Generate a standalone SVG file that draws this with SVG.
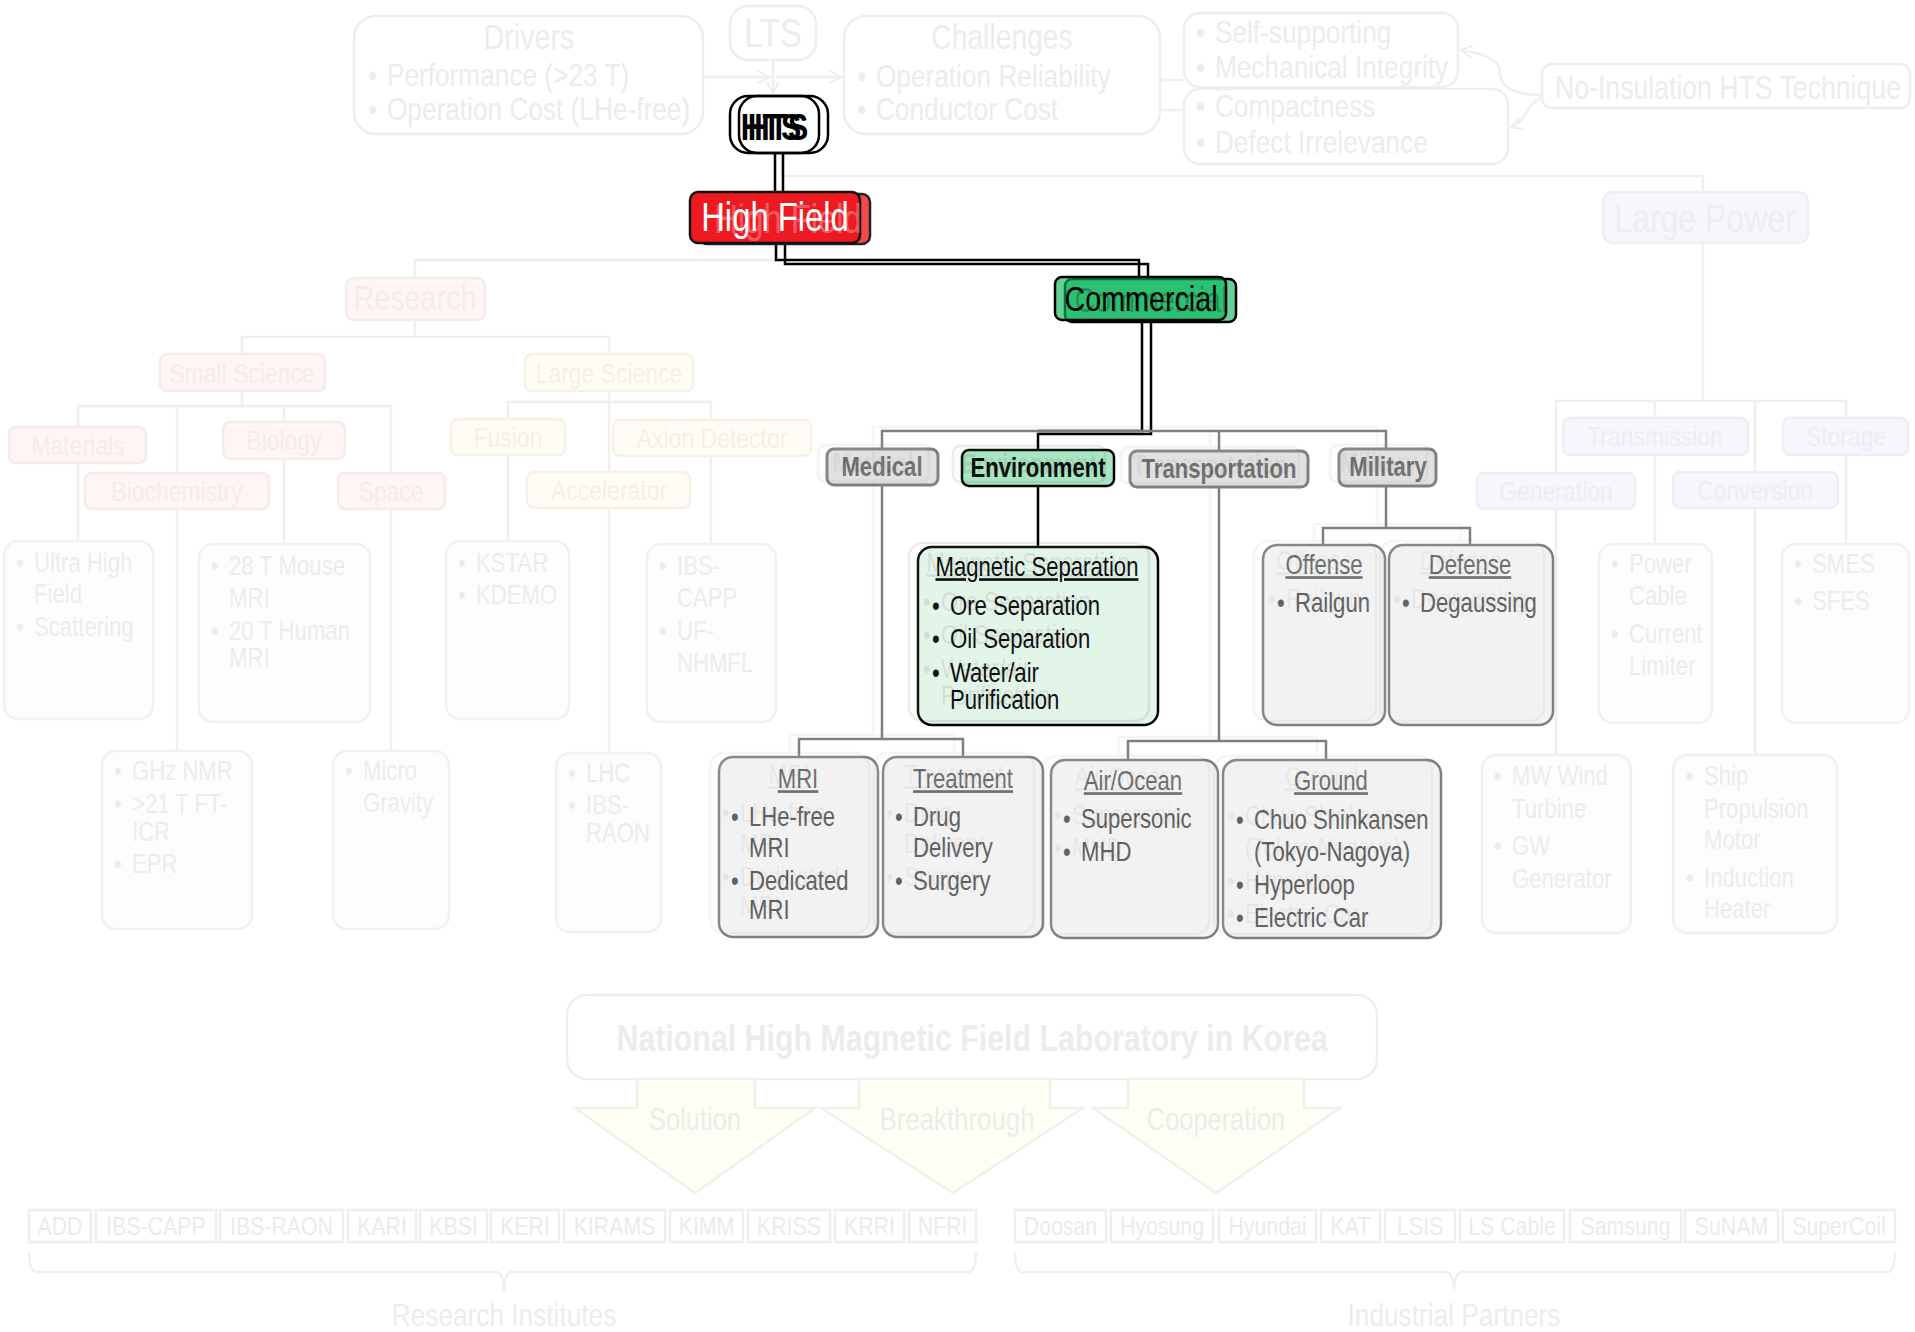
<svg xmlns="http://www.w3.org/2000/svg" xmlns:xlink="http://www.w3.org/1999/xlink" width="1915" height="1332" viewBox="0 0 1915 1332">
<defs>
<style>
text{font-family:'Liberation Sans Narrow','Arial Narrow','Liberation Sans',Arial,sans-serif;transform:scaleX(0.82);transform-box:fill-box;transform-origin:0% 50%}
.c{text-anchor:middle;transform-origin:50% 50%}
.fl{fill:none;stroke:#efefef;stroke-width:2.5}
.fb{fill:#fff;stroke:#eeeeee;stroke-width:2.5}
.ft{fill:#ececec}
.rs{fill:#fdf6f4;stroke:#f5ebe8;stroke-width:2.5}
.rst{fill:#f7ebe8}
.ls{fill:#fffcf5;stroke:#f6f1e6;stroke-width:2.5}
.lst{fill:#f5f0e4}
.lp{fill:#f6f6fd;stroke:#eeeef7;stroke-width:2.5}
.lpt{fill:#ededf5}
.cf{fill:#fdfdfd;stroke:#f1f1f1;stroke-width:2.5}
.s27{font-size:27px}
.s28{font-size:28px}
.s32{font-size:32px}
.gb{fill:#e1e1e1;stroke:#808080;stroke-width:3}
.gt{fill:#6a6a6a;font-weight:bold;font-size:27px;text-anchor:middle;transform-origin:50% 50%}
.cb{fill:#f2f2f2;stroke:#7f7f7f;stroke-width:2.5}
.ct{fill:#575757;font-size:27px}
.tt{fill:#666;font-size:27px;text-anchor:middle;text-decoration:underline;transform-origin:50% 50%}
.gl{fill:none;stroke:#7f7f7f;stroke-width:2.5}
.bl{fill:none;stroke:#000;stroke-width:2.5}
.ib{fill:none;stroke:#eeeeee;stroke-width:2.5}
.it{fill:#ebebeb;font-size:26px;text-anchor:middle;transform-origin:50% 50%}
.ya{fill:#fffef5;stroke:#f1f1ec;stroke-width:2.5}
</style>
<marker id="fa" markerWidth="14" markerHeight="14" refX="12" refY="7" orient="auto" markerUnits="userSpaceOnUse">
<path d="M1,1 L12,7 L1,13" fill="none" stroke="#eeeeee" stroke-width="2"/>
</marker>
</defs>
<rect width="1915" height="1332" fill="#fff"/>

<!-- connectors -->
<g id="connectors">
  <path class="fl" d="M703,77 H769" marker-end="url(#fa)"/>
  <path class="fl" d="M776,77 H841" marker-end="url(#fa)"/>
  <path class="fl" d="M773,60 V93" marker-end="url(#fa)"/>
  <path class="fl" d="M1184,80 H1112" marker-end="url(#fa)"/>
  <path class="fl" d="M1184,110 H1082" marker-end="url(#fa)"/>
  <path class="fl" d="M1542,95 C1505,95 1500,82 1500,72 C1500,60 1482,53 1461,50" marker-end="url(#fa)"/>
  <path class="fl" d="M1542,97 C1526,104 1526,122 1511,127" marker-end="url(#fa)"/>
  <path class="fl" d="M782,154 V176 H1703 V192"/>
  <path class="fl" d="M415,278 V260 H1139"/>
  <path class="fl" d="M415,320 V337 M242,354 V337 H609 V354"/>
  <path class="fl" d="M242,391 V406 M78,427 V406 H391 V473 M177,406 V473 M284,406 V422"/>
  <path class="fl" d="M609,391 V402 M508,419 V402 H711 V420 M609,402 V472"/>
  <path class="fl" d="M78,463 V541 M284,459 V544 M177,509 V751 M391,509 V751 M508,455 V541 M711,456 V544 M609,508 V753"/>
  <path class="fl" d="M1703,243 V401 M1556,473 V401 H1846 V418 M1655,401 V418 M1755,401 V472"/>
  <path class="fl" d="M1655,455 V544 M1846,455 V544 M1556,509 V755 M1755,508 V755"/>
  <path class="bl" d="M775,153 V193 M783,153 V193"/>
  <path class="bl" d="M776,243 V260 H1139 V278"/>
  <path class="bl" d="M785,243 V264 H1148 V279"/>
  <path class="bl" d="M1142,321 V431 H1038"/>
  <path class="bl" d="M1151,322 V434 H1038 V450"/>
  <path class="bl" d="M1038,486 V547"/>
</g>

<!-- ===== faint top row ===== -->
<g id="drivers">
  <rect class="fb" x="354" y="16" width="349" height="118" rx="22"/>
  <text class="ft c" x="529" y="49" font-size="35">Drivers</text>
  <text class="ft s32" x="368" y="86">• <tspan dx="3">Performance (&gt;23 T)</tspan></text>
  <text class="ft s32" x="368" y="120">• <tspan dx="3">Operation Cost (LHe-free)</tspan></text>
</g>
<g id="lts">
  <rect class="fb" x="730" y="6" width="86" height="54" rx="18"/>
  <text class="ft c" x="773" y="47" font-size="40">LTS</text>
</g>
<g id="challenges">
  <rect class="fb" x="844" y="16" width="316" height="118" rx="22"/>
  <text class="ft c" x="1002" y="49" font-size="34.5">Challenges</text>
  <text class="ft s32" x="857" y="87">• <tspan dx="3">Operation Reliability</tspan></text>
  <text class="ft s32" x="857" y="120">• <tspan dx="3">Conductor Cost</tspan></text>
</g>
<g id="self-supporting">
  <rect class="fb" x="1184" y="13" width="274" height="74" rx="16"/>
  <text class="ft s32" x="1196" y="43">• <tspan dx="3">Self-supporting</tspan></text>
  <text class="ft s32" x="1196" y="78">• <tspan dx="3">Mechanical Integrity</tspan></text>
</g>
<g id="compactness">
  <rect class="fb" x="1184" y="89" width="324" height="75" rx="16"/>
  <text class="ft s32" x="1196" y="117">• <tspan dx="3">Compactness</tspan></text>
  <text class="ft s32" x="1196" y="153">• <tspan dx="3">Defect Irrelevance</tspan></text>
</g>
<g id="no-insulation">
  <rect class="fb" x="1542" y="64" width="368" height="44" rx="10"/>
  <text class="ft" x="1555" y="99" font-size="32.5">No-Insulation HTS Technique</text>
</g>

<!-- ===== highlighted top ===== -->
<g id="hts">
  <rect x="739" y="96" width="89" height="57" rx="18" fill="#fff" stroke="#000" stroke-width="2.5"/>
  <rect x="730" y="96" width="89" height="57" rx="18" fill="none" stroke="#000" stroke-width="2.5"/>
  <text x="771" y="140" font-size="37" font-weight="bold" class="c" fill="#000">HTS</text>
  <text x="778" y="140" font-size="37" font-weight="bold" class="c" fill="#000">HTS</text>
</g>
<g id="high-field">
  <rect x="699" y="194" width="171" height="50" rx="8" fill="#f24a4a" stroke="#222" stroke-width="2.5"/>
  <rect x="690" y="192" width="170" height="51" rx="8" fill="#ee1a22" stroke="#111" stroke-width="2.5"/>
  <text x="775" y="231" font-size="40" class="c" fill="#fff">High Field</text>
  <text x="788" y="233" font-size="40" class="c" fill="#fff" fill-opacity="0.3">High Field</text>
</g>
<g id="commercial">
  <rect x="1065" y="279" width="171" height="43" rx="7" fill="rgb(11,182,92)" fill-opacity="0.63" stroke="#000" stroke-width="2.5"/>
  <rect x="1055" y="277" width="171" height="43" rx="7" fill="rgb(11,182,92)" fill-opacity="0.63" stroke="#000" stroke-width="2.5"/>
  <text x="1141" y="311" font-size="35" class="c" fill="#000">Commercial</text>
  <text x="1151" y="312" font-size="35" class="c" fill="#000" fill-opacity="0.25">Commercial</text>
</g>

<!-- ===== faint research side ===== -->
<g id="research"><rect class="rs" x="346" y="278" width="139" height="42" rx="8"/><text class="rst c" x="415" y="310" font-size="35">Research</text></g>
<g id="small-science"><rect class="rs" x="160" y="354" width="165" height="37" rx="7"/><text class="rst c s28" x="242" y="383">Small Science</text></g>
<g id="large-science"><rect class="ls" x="525" y="354" width="168" height="37" rx="7"/><text class="lst c s28" x="609" y="383">Large Science</text></g>
<g id="materials"><rect class="rs" x="9" y="427" width="137" height="36" rx="7"/><text class="rst c s28" x="78" y="455">Materials</text></g>
<g id="biology"><rect class="rs" x="223" y="422" width="122" height="37" rx="7"/><text class="rst c s28" x="284" y="450">Biology</text></g>
<g id="biochemistry"><rect class="rs" x="85" y="473" width="184" height="36" rx="7"/><text class="rst c s28" x="177" y="501">Biochemistry</text></g>
<g id="space"><rect class="rs" x="338" y="473" width="107" height="36" rx="7"/><text class="rst c s28" x="391" y="501">Space</text></g>
<g id="fusion"><rect class="ls" x="451" y="419" width="114" height="36" rx="7"/><text class="lst c s28" x="508" y="447">Fusion</text></g>
<g id="axion"><rect class="ls" x="613" y="420" width="198" height="36" rx="7"/><text class="lst c s28" x="712" y="448">Axion Detector</text></g>
<g id="accelerator"><rect class="ls" x="527" y="472" width="163" height="36" rx="7"/><text class="lst c s28" x="609" y="500">Accelerator</text></g>

<g id="ultra-high-field"><rect class="cf" x="4" y="541" width="149" height="178" rx="14"/>
  <text class="ft s27" x="16" y="572">• <tspan dx="5">Ultra High</tspan></text><text class="ft s27" x="34" y="603">Field</text><text class="ft s27" x="16" y="636">• <tspan dx="5">Scattering</tspan></text></g>
<g id="mouse-mri"><rect class="cf" x="199" y="544" width="171" height="178" rx="14"/>
  <text class="ft s27" x="211" y="575">• <tspan dx="5">28 T Mouse</tspan></text><text class="ft s27" x="229" y="607">MRI</text><text class="ft s27" x="211" y="640">• <tspan dx="5">20 T Human</tspan></text><text class="ft s27" x="229" y="667">MRI</text></g>
<g id="kstar"><rect class="cf" x="446" y="541" width="123" height="178" rx="14"/>
  <text class="ft s27" x="458" y="572">• <tspan dx="5">KSTAR</tspan></text><text class="ft s27" x="458" y="604">• <tspan dx="5">KDEMO</tspan></text></g>
<g id="ibs-capp"><rect class="cf" x="647" y="544" width="129" height="178" rx="14"/>
  <text class="ft s27" x="659" y="575">• <tspan dx="5">IBS-</tspan></text><text class="ft s27" x="677" y="607">CAPP</text><text class="ft s27" x="659" y="640">• <tspan dx="5">UF-</tspan></text><text class="ft s27" x="677" y="672">NHMFL</text></g>
<g id="ghz-nmr"><rect class="cf" x="102" y="751" width="150" height="178" rx="14"/>
  <text class="ft s27" x="114" y="780">• <tspan dx="5">GHz NMR</tspan></text><text class="ft s27" x="114" y="813">• <tspan dx="5">&gt;21 T FT-</tspan></text><text class="ft s27" x="132" y="841">ICR</text><text class="ft s27" x="114" y="873">• <tspan dx="5">EPR</tspan></text></g>
<g id="micro-gravity"><rect class="cf" x="333" y="751" width="116" height="178" rx="14"/>
  <text class="ft s27" x="345" y="780">• <tspan dx="5">Micro</tspan></text><text class="ft s27" x="363" y="812">Gravity</text></g>
<g id="lhc"><rect class="cf" x="556" y="753" width="105" height="179" rx="14"/>
  <text class="ft s27" x="568" y="782">• <tspan dx="5">LHC</tspan></text><text class="ft s27" x="568" y="814">• <tspan dx="5">IBS-</tspan></text><text class="ft s27" x="586" y="842">RAON</text></g>

<!-- ===== faint large power side ===== -->
<g id="large-power"><rect class="lp" x="1603" y="192" width="205" height="51" rx="10"/><text class="lpt c" x="1705" y="232" font-size="39">Large Power</text></g>
<g id="transmission"><rect class="lp" x="1563" y="418" width="185" height="37" rx="7"/><text class="lpt c s28" x="1655" y="446">Transmission</text></g>
<g id="storage"><rect class="lp" x="1783" y="418" width="125" height="37" rx="7"/><text class="lpt c s28" x="1846" y="446">Storage</text></g>
<g id="generation"><rect class="lp" x="1477" y="473" width="158" height="36" rx="7"/><text class="lpt c s28" x="1556" y="501">Generation</text></g>
<g id="conversion"><rect class="lp" x="1673" y="472" width="165" height="36" rx="7"/><text class="lpt c s28" x="1755" y="500">Conversion</text></g>
<g id="power-cable"><rect class="cf" x="1599" y="544" width="113" height="179" rx="14"/>
  <text class="ft s27" x="1611" y="573">• <tspan dx="5">Power</tspan></text><text class="ft s27" x="1629" y="605">Cable</text><text class="ft s27" x="1611" y="643">• <tspan dx="5">Current</tspan></text><text class="ft s27" x="1629" y="675">Limiter</text></g>
<g id="smes"><rect class="cf" x="1782" y="544" width="127" height="179" rx="14"/>
  <text class="ft s27" x="1794" y="573">• <tspan dx="5">SMES</tspan></text><text class="ft s27" x="1794" y="610">• <tspan dx="5">SFES</tspan></text></g>
<g id="mw-wind"><rect class="cf" x="1482" y="755" width="149" height="178" rx="14"/>
  <text class="ft s27" x="1494" y="785">• <tspan dx="5">MW Wind</tspan></text><text class="ft s27" x="1512" y="818">Turbine</text><text class="ft s27" x="1494" y="855">• <tspan dx="5">GW</tspan></text><text class="ft s27" x="1512" y="888">Generator</text></g>
<g id="ship"><rect class="cf" x="1673" y="755" width="164" height="178" rx="14"/>
  <text class="ft s27" x="1686" y="785">• <tspan dx="5">Ship</tspan></text><text class="ft s27" x="1704" y="818">Propulsion</text><text class="ft s27" x="1704" y="849">Motor</text><text class="ft s27" x="1686" y="887">• <tspan dx="5">Induction</tspan></text><text class="ft s27" x="1704" y="918">Heater</text></g>

<!-- ===== highlighted commercial subtree ===== -->
<g id="comm-sub">
  <path class="gl" d="M882,449 V431 H1386 V449 M1219,431 V451"/>
  <path class="gl" d="M882,485 V739 M799,757 V739 H963 V757"/>
  <path class="gl" d="M1219,487 V741 M1128,760 V741 H1326 V760"/>
  <path class="gl" d="M1386,486 V528 M1323,545 V528 H1470 V545"/>
  <g id="medical"><rect class="gb" x="827" y="449" width="111" height="36" rx="7"/><text class="gt" x="882" y="476">Medical</text></g>
  <g id="environment"><rect x="962" y="450" width="152" height="36" rx="7" fill="#a9e5c3" stroke="#000" stroke-width="2.5"/><text class="gt" x="1038" y="477" style="fill:#000">Environment</text></g>
  <g id="transportation"><rect class="gb" x="1130" y="451" width="178" height="36" rx="7"/><text class="gt" x="1219" y="478">Transportation</text></g>
  <g id="military"><rect class="gb" x="1339" y="449" width="97" height="37" rx="7"/><text class="gt" x="1388" y="476">Military</text></g>
  <g id="magnetic-separation">
    <rect x="918" y="547" width="240" height="178" rx="14" fill="#e3f4e9" stroke="#000" stroke-width="2.5"/>
    <text class="tt" x="1037" y="576" style="fill:#000">Magnetic Separation</text>
    <text class="ct" x="932" y="615" style="fill:#000">• <tspan dx="5">Ore Separation</tspan></text>
    <text class="ct" x="932" y="648" style="fill:#000">• <tspan dx="5">Oil Separation</tspan></text>
    <text class="ct" x="932" y="682" style="fill:#000">• <tspan dx="5">Water/air</tspan></text>
    <text class="ct" x="950" y="709" style="fill:#000">Purification</text>
  </g>
  <g id="offense"><rect class="cb" x="1263" y="545" width="122" height="180" rx="14"/>
    <text class="tt" x="1324" y="574">Offense</text><text class="ct" x="1277" y="612">• <tspan dx="5">Railgun</tspan></text></g>
  <g id="defense"><rect class="cb" x="1389" y="545" width="164" height="180" rx="14"/>
    <text class="tt" x="1470" y="574">Defense</text><text class="ct" x="1402" y="612">• <tspan dx="5">Degaussing</tspan></text></g>
  <g id="mri"><rect class="cb" x="719" y="757" width="159" height="180" rx="14"/>
    <text class="tt" x="798" y="788">MRI</text>
    <text class="ct" x="731" y="826">• <tspan dx="5">LHe-free</tspan></text><text class="ct" x="749" y="857">MRI</text>
    <text class="ct" x="731" y="890">• <tspan dx="5">Dedicated</tspan></text><text class="ct" x="749" y="919">MRI</text></g>
  <g id="treatment"><rect class="cb" x="883" y="757" width="160" height="180" rx="14"/>
    <text class="tt" x="963" y="788">Treatment</text>
    <text class="ct" x="895" y="826">• <tspan dx="5">Drug</tspan></text><text class="ct" x="913" y="857">Delivery</text>
    <text class="ct" x="895" y="890">• <tspan dx="5">Surgery</tspan></text></g>
  <g id="air-ocean"><rect class="cb" x="1051" y="760" width="167" height="178" rx="14"/>
    <text class="tt" x="1133" y="790">Air/Ocean</text>
    <text class="ct" x="1063" y="828">• <tspan dx="5">Supersonic</tspan></text><text class="ct" x="1063" y="861">• <tspan dx="5">MHD</tspan></text></g>
  <g id="ground"><rect class="cb" x="1223" y="760" width="218" height="178" rx="14"/>
    <text class="tt" x="1331" y="790">Ground</text>
    <text class="ct" x="1236" y="829">• <tspan dx="5">Chuo Shinkansen</tspan></text><text class="ct" x="1254" y="861">(Tokyo-Nagoya)</text>
    <text class="ct" x="1236" y="894">• <tspan dx="5">Hyperloop</tspan></text><text class="ct" x="1236" y="927">• <tspan dx="5">Electric Car</tspan></text></g>
</g>
<use xlink:href="#comm-sub" href="#comm-sub" transform="translate(-9,-4)" opacity="0.08"/>

<!-- ===== bottom ===== -->
<g id="nhmfl">
  <rect class="fb" x="567" y="995" width="810" height="84" rx="20"/>
  <text class="ft c" x="972" y="1051" font-size="37" font-weight="bold">National High Magnetic Field Laboratory in Korea</text>
</g>
<g id="solution"><polygon class="ya" points="637,1079 637,1108 575,1108 695,1193 815,1108 755,1108 755,1079"/><text class="ft c" x="695" y="1130" font-size="31">Solution</text></g>
<g id="breakthrough"><polygon class="ya" points="859,1079 859,1108 821,1108 953,1193 1083,1108 1050,1108 1050,1079"/><text class="ft c" x="957" y="1130" font-size="31.5">Breakthrough</text></g>
<g id="cooperation"><polygon class="ya" points="1128,1079 1128,1108 1093,1108 1216,1193 1340,1108 1304,1108 1304,1079"/><text class="ft c" x="1216" y="1130" font-size="31">Cooperation</text></g>

<g id="research-institutes">
  <g id="i-add"><rect class="ib" x="29" y="1210" width="62" height="32"/><text class="it" x="60" y="1235">ADD</text></g>
  <g id="i-ibs-capp"><rect class="ib" x="96" y="1210" width="120" height="32"/><text class="it" x="156" y="1235">IBS-CAPP</text></g>
  <g id="i-ibs-raon"><rect class="ib" x="220" y="1210" width="123" height="32"/><text class="it" x="281.5" y="1235">IBS-RAON</text></g>
  <g id="i-kari"><rect class="ib" x="348" y="1210" width="68" height="32"/><text class="it" x="382" y="1235">KARI</text></g>
  <g id="i-kbsi"><rect class="ib" x="420" y="1210" width="67" height="32"/><text class="it" x="453.5" y="1235">KBSI</text></g>
  <g id="i-keri"><rect class="ib" x="491" y="1210" width="68" height="32"/><text class="it" x="525" y="1235">KERI</text></g>
  <g id="i-kirams"><rect class="ib" x="564" y="1210" width="101" height="32"/><text class="it" x="614.5" y="1235">KIRAMS</text></g>
  <g id="i-kimm"><rect class="ib" x="670" y="1210" width="73" height="32"/><text class="it" x="706.5" y="1235">KIMM</text></g>
  <g id="i-kriss"><rect class="ib" x="748" y="1210" width="82" height="32"/><text class="it" x="789" y="1235">KRISS</text></g>
  <g id="i-krri"><rect class="ib" x="835" y="1210" width="69" height="32"/><text class="it" x="869.5" y="1235">KRRI</text></g>
  <g id="i-nfri"><rect class="ib" x="909" y="1210" width="67" height="32"/><text class="it" x="942.5" y="1235">NFRI</text></g>
  <path class="fl" d="M29,1252 C29,1264 31,1272 37,1272 H496 C501,1272 504,1280 504,1291 C504,1280 507,1272 512,1272 H968 C974,1272 976,1264 976,1252"/>
  <text class="ft c" x="504" y="1326" font-size="32">Research Institutes</text>
</g>
<g id="industrial-partners">
  <g id="p-doosan"><rect class="ib" x="1015" y="1210" width="91" height="32"/><text class="it" x="1060.5" y="1235">Doosan</text></g>
  <g id="p-hyosung"><rect class="ib" x="1111" y="1210" width="102" height="32"/><text class="it" x="1162" y="1235">Hyosung</text></g>
  <g id="p-hyundai"><rect class="ib" x="1219" y="1210" width="97" height="32"/><text class="it" x="1267.5" y="1235">Hyundai</text></g>
  <g id="p-kat"><rect class="ib" x="1321" y="1210" width="59" height="32"/><text class="it" x="1350.5" y="1235">KAT</text></g>
  <g id="p-lsis"><rect class="ib" x="1385" y="1210" width="70" height="32"/><text class="it" x="1420" y="1235">LSIS</text></g>
  <g id="p-lscable"><rect class="ib" x="1460" y="1210" width="104" height="32"/><text class="it" x="1512" y="1235">LS Cable</text></g>
  <g id="p-samsung"><rect class="ib" x="1570" y="1210" width="111" height="32"/><text class="it" x="1625.5" y="1235">Samsung</text></g>
  <g id="p-sunam"><rect class="ib" x="1685" y="1210" width="93" height="32"/><text class="it" x="1731.5" y="1235">SuNAM</text></g>
  <g id="p-supercoil"><rect class="ib" x="1783" y="1210" width="112" height="32"/><text class="it" x="1839" y="1235">SuperCoil</text></g>
  <path class="fl" d="M1015,1252 C1015,1264 1017,1272 1023,1272 H1446 C1451,1272 1454,1280 1454,1291 C1454,1280 1457,1272 1462,1272 H1887 C1893,1272 1895,1264 1895,1252"/>
  <text class="ft c" x="1454" y="1326" font-size="32">Industrial Partners</text>
</g>
</svg>
